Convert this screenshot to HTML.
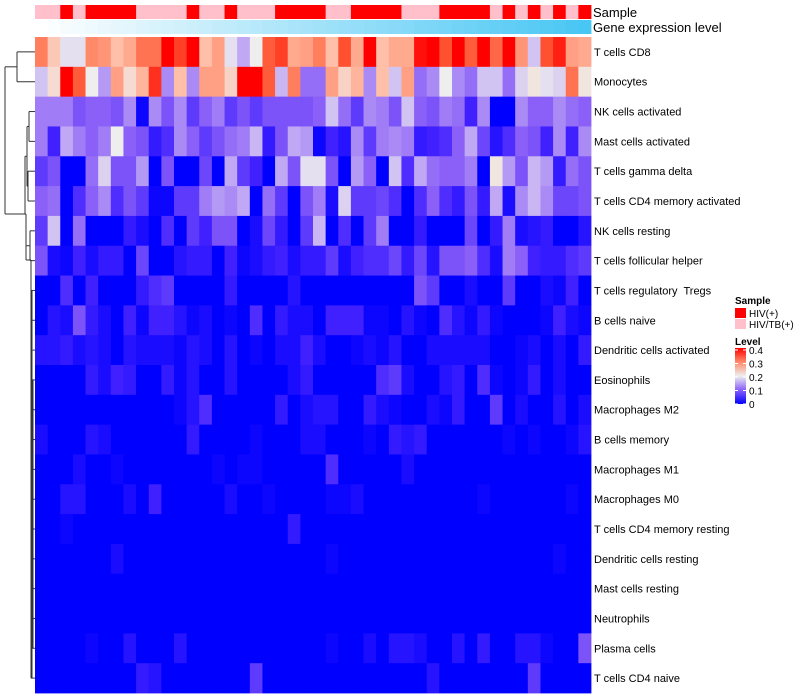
<!DOCTYPE html>
<html><head><meta charset="utf-8">
<style>
html,body{margin:0;padding:0;background:#fff;}
svg{display:block;font-family:"Liberation Sans",Arial,sans-serif;}
#labels text{white-space:pre;}
</style></head>
<body>
<svg id="chart" width="800" height="700" viewBox="0 0 800 700">
<g id="dend" stroke="#333" stroke-width="1" fill="none"></g>
<g id="anno"></g>
<g id="cells"></g>
<g id="labels" font-size="11" fill="#000" xml:space="preserve"></g>
<text x="593" y="17" font-size="13">Sample</text>
<text x="593" y="32" font-size="13">Gene expression level</text>
<g id="legend">
  <text x="735" y="304" font-size="10" font-weight="bold">Sample</text>
  <rect x="735" y="308" width="11" height="10" fill="#ff0000"/>
  <text x="749" y="317" font-size="10">HIV(+)</text>
  <rect x="735" y="319" width="11" height="10" fill="#ffc0cb"/>
  <text x="749" y="328" font-size="10">HIV/TB(+)</text>
  <text x="735" y="345" font-size="10" font-weight="bold">Level</text>
  <defs><linearGradient id="lg" x1="0" y1="1" x2="0" y2="0">
    <stop offset="0" stop-color="#0000ff"/><stop offset="0.25" stop-color="#8a60f8"/>
    <stop offset="0.5" stop-color="#eeeeee"/><stop offset="0.75" stop-color="#ff8a6a"/>
    <stop offset="1" stop-color="#ff0000"/></linearGradient></defs>
  <rect x="735" y="348" width="11" height="56" fill="url(#lg)"/>
  <g id="lticks" font-size="10"></g>
</g>
</svg>
<script>
const rowNames=["T cells CD8","Monocytes","NK cells activated","Mast cells activated","T cells gamma delta","T cells CD4 memory activated","NK cells resting","T cells follicular helper","T cells regulatory  Tregs","B cells naive","Dendritic cells activated","Eosinophils","Macrophages M2","B cells memory","Macrophages M1","Macrophages M0","T cells CD4 memory resting","Dendritic cells resting","Mast cells resting","Neutrophils","Plasma cells","T cells CD4 naive"];
const sampleGroups="PPRPRRRRPPPPRPPRPPPRRRRPPRRRRPPPRRRRPRPRPRPR".split("");
const legendTicks=[0,0.1,0.2,0.3,0.4];
const r00=[31,24,19,19,30,29,25,27,32,32,40,36,40,25,28,19,15,20,34,36,27,28,31,25,35,27,40,25,27,27,39,40,35,40,34,40,33,40,29,17,35,38,28,27];
const r01=[17,22,40,34,20,14,28,22,26,37,13,25,13,28,28,23,40,40,34,16,31,11,11,28,23,26,13,25,17,28,11,13,20,13,11,17,17,11,18,21,19,18,32,21];
const r02=[12,12,12,9,10,10,9,13,1,13,9,13,7,10,12,7,9,7,9,9,9,9,10,17,11,7,13,12,9,17,10,9,12,11,5,13,0,0,13,10,10,13,11,10];
const r03=[12,5,15,12,10,12,20,10,9,4,6,13,10,7,9,11,12,16,4,9,15,14,1,5,3,13,7,12,13,12,4,5,6,10,15,8,3,6,10,9,5,13,5,13];
const r04=[7,9,0,0,11,18,9,9,14,0,9,0,0,8,0,15,7,5,0,15,9,19,19,9,0,14,10,0,17,6,15,11,10,10,12,0,21,14,9,16,14,4,11,9];
const r05=[10,11,0,6,10,13,6,9,7,1,1,7,7,12,14,13,15,0,11,7,0,9,12,2,18,7,7,8,6,0,6,10,6,4,9,4,15,2,13,16,13,8,8,9];
const r06=[7,17,0,11,0,0,0,4,2,0,6,0,7,5,9,9,0,2,8,4,0,7,16,0,6,0,7,12,0,0,4,0,0,0,8,0,4,12,2,3,4,0,0,3];
const r07=[9,2,1,5,2,4,4,0,8,0,0,3,4,4,0,5,1,2,4,5,2,4,4,7,2,5,6,6,8,4,8,3,9,9,10,6,2,12,10,5,4,4,6,7];
const r08=[0,0,6,0,5,0,0,0,4,6,7,0,0,0,0,4,0,0,0,0,3,0,0,0,0,0,0,0,0,0,9,7,0,0,2,0,0,7,0,0,2,1,5,0];
const r09=[0,3,2,9,4,2,0,5,1,5,5,3,1,2,0,1,0,6,0,4,2,2,0,5,5,5,1,1,0,3,1,0,6,3,1,4,1,0,0,0,1,5,2,1];
const r10=[3,3,4,2,3,2,0,3,2,2,2,1,3,2,0,3,0,1,0,2,2,5,2,0,0,1,2,1,3,0,0,2,2,2,2,2,0,0,1,2,0,2,0,4];
const r11=[0,0,0,0,4,2,5,4,0,0,4,1,3,0,0,3,0,0,0,0,2,4,0,0,0,0,0,6,7,2,0,0,3,4,0,6,1,0,1,4,0,2,0,0];
const r12=[0,0,0,0,0,0,0,0,0,0,0,1,3,6,0,0,0,0,0,4,0,2,3,3,0,0,4,2,1,0,0,2,1,4,0,0,7,0,2,0,0,3,0,2];
const r13=[2,0,0,0,3,2,0,0,0,0,0,0,4,0,0,0,0,1,0,0,0,2,2,0,0,0,1,0,4,3,4,0,0,0,0,0,0,1,0,1,0,0,1,3];
const r14=[0,0,0,2,0,0,1,0,0,0,0,0,0,0,1,0,1,1,0,0,0,0,0,6,0,0,0,0,0,2,0,0,0,0,0,0,0,0,0,0,0,0,0,0];
const r15=[0,0,3,3,0,0,0,2,0,5,0,0,0,0,0,2,0,0,1,0,0,0,0,1,1,2,0,0,0,0,0,0,0,0,0,1,0,0,0,0,0,0,1,0];
const r16=[0,0,1,0,0,0,0,0,0,0,0,0,0,0,0,0,0,0,0,0,4,0,0,0,0,0,0,0,0,0,0,0,0,0,0,0,0,0,0,0,0,0,0,0];
const r17=[0,0,0,0,0,0,2,0,0,0,0,0,0,0,0,0,0,0,0,0,0,0,0,1,0,0,0,0,0,0,0,0,0,0,0,0,0,0,0,0,0,1,0,0];
const r18=[0,0,0,0,0,0,0,0,0,0,0,0,0,0,0,0,0,0,0,0,0,0,0,0,0,0,0,0,0,0,0,0,0,0,0,0,0,0,0,0,0,0,0,0];
const r19=[0,0,0,0,0,0,0,0,0,0,0,0,0,0,0,0,0,0,0,0,0,0,0,0,0,0,0,0,0,0,0,0,0,0,0,0,0,0,0,0,0,0,0,0];
const r20=[0,0,0,0,1,0,0,3,0,0,0,3,0,0,0,0,0,0,0,0,0,0,0,1,0,0,2,0,3,3,2,0,0,3,0,4,0,0,3,3,1,0,0,9];
const r21=[0,0,0,0,0,0,0,0,4,3,0,0,0,0,0,0,0,7,0,0,0,0,0,0,0,0,0,0,0,0,0,3,0,0,0,0,0,0,0,7,0,0,0,0];
const levels=[r00,r01,r02,r03,r04,r05,r06,r07,r08,r09,r10,r11,r12,r13,r14,r15,r16,r17,r18,r19,r20,r21]; // percent units

const NS="http://www.w3.org/2000/svg";
const X0=35,X1=591,Y0=37,Y1=693,nC=44,nR=rowNames.length;
const cw=(X1-X0)/nC, rh=(Y1-Y0)/nR;
const xOf=i=>X0+i*cw, yOf=r=>Y0+r*rh;
const stops=[[0,[0,0,255]],[5,[64,32,255]],[10,[138,96,248]],[15,[192,168,244]],[20,[238,238,238]],[25,[255,191,168]],[30,[255,138,106]],[35,[255,80,48]],[40,[255,0,0]]];
function col(v){v=Math.max(0,Math.min(40,v));for(let k=0;k<stops.length-1;k++){const a=stops[k],b=stops[k+1];if(v<=b[0]){const t=(v-a[0])/(b[0]-a[0]);const c=a[1].map((x,j)=>Math.round(x+(b[1][j]-x)*t));return`rgb(${c})`;}}return"rgb(255,0,0)";}
function mk(tag,attrs,parent){const e=document.createElementNS(NS,tag);for(const k in attrs)e.setAttribute(k,attrs[k]);parent.appendChild(e);return e;}

const cells=document.getElementById("cells");
levels.forEach((row,r)=>row.forEach((v,c)=>{
  const e=mk("rect",{x:xOf(c).toFixed(2),y:yOf(r).toFixed(2),width:(cw+0.4).toFixed(2),height:(rh+0.4).toFixed(2),fill:col(v)},cells);
  
  
}));
const anno=document.getElementById("anno");
sampleGroups.forEach((g,c)=>{
  const e=mk("rect",{x:xOf(c).toFixed(2),y:5,width:(cw+0.4).toFixed(2),height:14,fill:g==="R"?"#ff0000":"#ffc0cb"},anno);
  
  
  const t=c/(nC-1);
  const cc=[255+(72-255)*t,255+(198-255)*t,255+(244-255)*t].map(Math.round);
  const e2=mk("rect",{x:xOf(c).toFixed(2),y:20,width:(cw+0.4).toFixed(2),height:14,fill:`rgb(${cc})`},anno);
  
  
});
const labels=document.getElementById("labels");
rowNames.forEach((n,r)=>{
  const t=mk("text",{x:594,y:(yOf(r)+rh/2+4).toFixed(1)},labels);
  t.textContent=n;
  
  
});
const lt=document.getElementById("lticks");
legendTicks.forEach(v=>{
  const y=404-v/0.4*54;
  mk("line",{x1:735,x2:738,y1:y,y2:y,stroke:"#fff"},lt);mk("line",{x1:743,x2:746,y1:y,y2:y,stroke:"#fff"},lt);
  const t=mk("text",{x:749,y:(y+4).toFixed(1)},lt);
  t.textContent=v===0?"0":String(v);
  
  
});
// dendrogram
const d=document.getElementById("dend");
const cy=r=>yOf(r)+rh/2;
function seg(x1,y1,x2,y2){mk("line",{x1,y1,x2,y2},d);}
seg(17,cy(0),35,cy(0));seg(17,cy(1),35,cy(1));seg(17,cy(0),17,cy(1));
const topJ=(cy(0)+cy(1))/2;
seg(5,topJ,17,topJ);seg(5,topJ,5,214);seg(5,214,25,214);
seg(29,cy(2),35,cy(2));seg(29,cy(3),35,cy(3));seg(29,cy(2),29,cy(3));
seg(28,cy(4),35,cy(4));seg(28,cy(5),35,cy(5));seg(28,cy(4),28,cy(5));
seg(27,(cy(2)+cy(3))/2,29,(cy(2)+cy(3))/2);seg(27,(cy(4)+cy(5))/2,28,(cy(4)+cy(5))/2);
seg(27,(cy(2)+cy(3))/2,27,(cy(4)+cy(5))/2);
seg(30,cy(6),35,cy(6));seg(30,cy(7),35,cy(7));seg(30,cy(6),30,cy(7));
const a1=((cy(2)+cy(3))/2+(cy(4)+cy(5))/2)/2;
seg(25,a1,27,a1);
seg(26,(cy(6)+cy(7))/2,30,(cy(6)+cy(7))/2);
seg(25,a1,25,214);seg(25,214,26,214);seg(26,214,26,(cy(6)+cy(7))/2);
seg(26,(cy(6)+cy(7))/2,26,260);seg(26,260,31,260);
seg(31,260,31,cy(21));
for(let r=8;r<22;r++){seg(32+(r%3)*0.7,cy(r),35,cy(r));seg(31,cy(r),32+(r%3)*0.7,cy(r));}
seg(32,cy(8),32,cy(21));seg(33,cy(11),33,cy(20));
</script>
</body></html>
